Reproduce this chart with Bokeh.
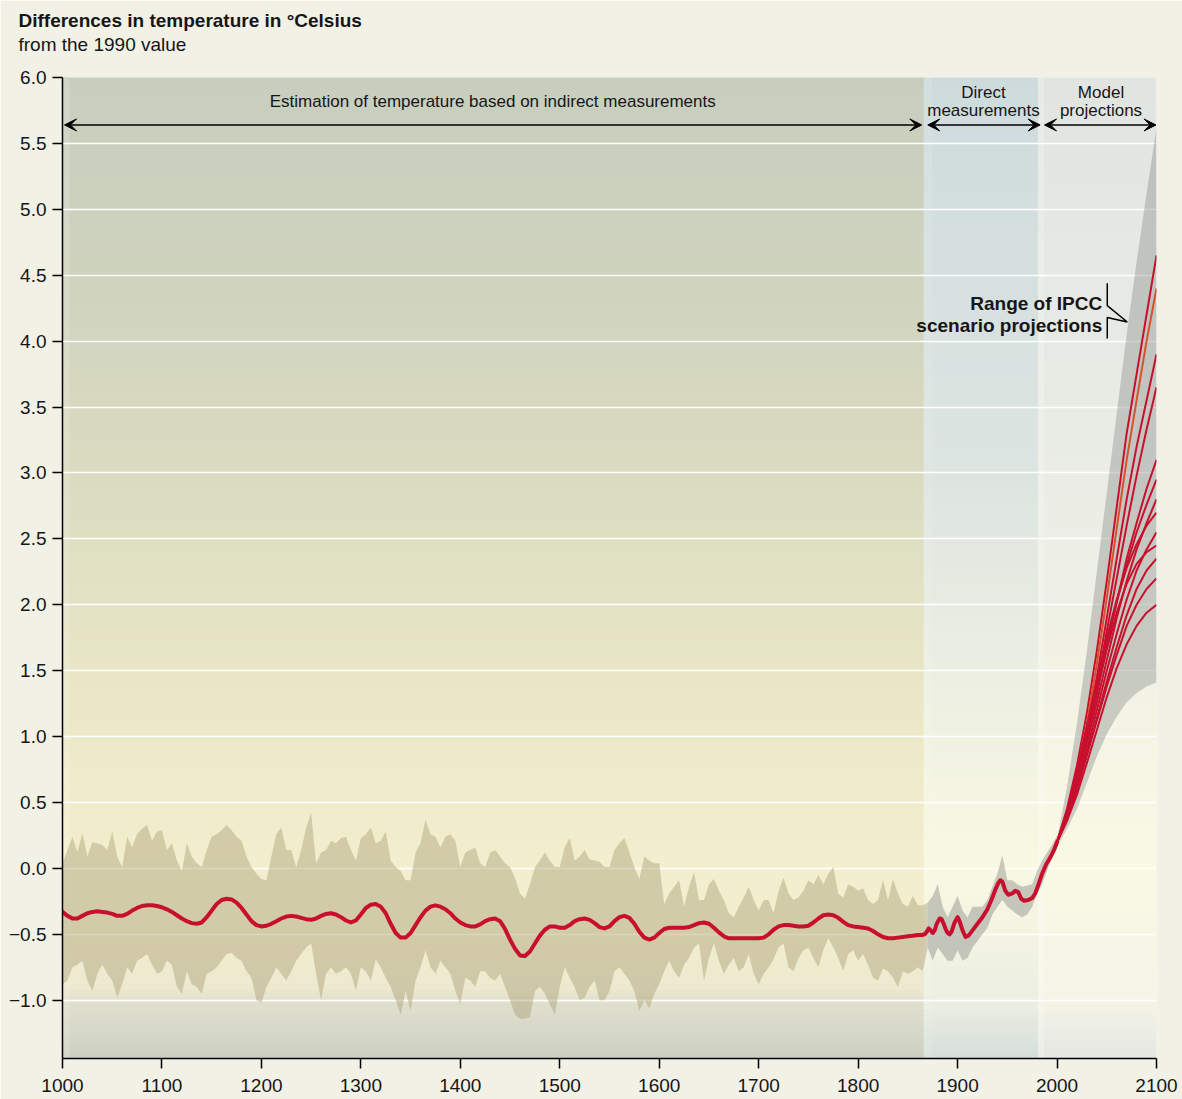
import numpy as np
from bokeh.plotting import figure
from bokeh.models import Range1d, FixedTicker, Title, Arrow, VeeHead
from bokeh.core.properties import value
from bokeh.embed import file_html
from bokeh.resources import INLINE

# ---------------- data ----------------
x_ticks = [1000, 1100, 1200, 1300, 1400, 1500, 1600, 1700, 1800, 1900, 2000, 2100]
x_tick_labels = ["1000", "1100", "1200", "1300", "1400", "1500", "1600", "1700", "1800", "1900", "2000", "2100"]
y_ticks = [-1.0, -0.5, 0.0, 0.5, 1.0, 1.5, 2.0, 2.5, 3.0, 3.5, 4.0, 4.5, 5.0, 5.5, 6.0]
y_tick_labels = ["\u22121.0", "\u22120.5", "0.0", "0.5", "1.0", "1.5", "2.0", "2.5", "3.0", "3.5",
                 "4.0", "4.5", "5.0", "5.5", "6.0"]

# smoothed reconstruction (indirect), every 5 years 1000-1860
proxy_years = list(range(1000, 1861, 5))
proxy_smooth = [
    -0.33, -0.36, -0.38, -0.38, -0.36, -0.34, -0.33, -0.325, -0.33, -0.335,
    -0.345, -0.36, -0.36, -0.345, -0.32, -0.30, -0.285, -0.28, -0.28, -0.285,
    -0.295, -0.31, -0.33, -0.355, -0.38, -0.40, -0.415, -0.42, -0.41, -0.37,
    -0.32, -0.27, -0.24, -0.23, -0.235, -0.26, -0.30, -0.35, -0.40, -0.43,
    -0.44, -0.435, -0.42, -0.40, -0.38, -0.365, -0.36, -0.365, -0.375, -0.385,
    -0.39, -0.38, -0.36, -0.345, -0.34, -0.35, -0.37, -0.395, -0.41, -0.395,
    -0.35, -0.30, -0.275, -0.27, -0.29, -0.34, -0.42, -0.49, -0.525, -0.525,
    -0.49, -0.43, -0.37, -0.32, -0.29, -0.28, -0.29, -0.31, -0.34, -0.38,
    -0.41, -0.43, -0.44, -0.44, -0.425, -0.40, -0.385, -0.38, -0.40, -0.46,
    -0.54, -0.61, -0.66, -0.665, -0.63, -0.57, -0.51, -0.465, -0.44, -0.44,
    -0.45, -0.45, -0.43, -0.40, -0.385, -0.38, -0.39, -0.415, -0.445, -0.455,
    -0.44, -0.40, -0.37, -0.36, -0.375, -0.42, -0.48, -0.525, -0.54, -0.525,
    -0.49, -0.46, -0.45, -0.45, -0.45, -0.45, -0.445, -0.43, -0.415, -0.41,
    -0.42, -0.45, -0.485, -0.515, -0.53, -0.53, -0.53, -0.53, -0.53, -0.53,
    -0.53, -0.525, -0.50, -0.465, -0.44, -0.43, -0.43, -0.435, -0.44, -0.44,
    -0.435, -0.41, -0.38, -0.355, -0.35, -0.355, -0.375, -0.405, -0.43, -0.44,
    -0.445, -0.45, -0.455, -0.475, -0.50, -0.52, -0.53, -0.53, -0.525, -0.52,
    -0.515, -0.51, -0.505]

# uncertainty range of the reconstruction, every 5 years 1000-1870
band_years = list(range(1000, 1871, 5))
band_upper = [
    0.04, 0.14, 0.24, 0.12, 0.27, 0.09, 0.20, 0.19, 0.18, 0.14,
    0.28, 0.09, 0.01, 0.24, 0.16, 0.26, 0.30, 0.33, 0.21, 0.28,
    0.29, 0.14, 0.19, 0.06, -0.02, 0.19, 0.09, 0.04, 0.01, 0.14,
    0.24, 0.26, 0.29, 0.33, 0.29, 0.24, 0.21, 0.09, 0.01, -0.04,
    -0.08, -0.09, 0.09, 0.26, 0.31, 0.14, 0.14, 0.01, 0.14, 0.31,
    0.42, 0.04, 0.12, 0.14, 0.21, 0.19, 0.23, 0.24, 0.14, 0.06,
    0.23, 0.26, 0.31, 0.19, 0.21, 0.28, 0.06, 0.01, -0.02, -0.09,
    -0.09, 0.12, 0.19, 0.37, 0.26, 0.24, 0.16, 0.24, 0.26, 0.21,
    0.01, 0.12, 0.14, 0.16, 0.04, 0.01, 0.12, 0.14, 0.09, 0.04,
    0.01, -0.07, -0.19, -0.23, -0.12, 0.01, 0.06, 0.12, 0.06, 0.01,
    0.01, 0.16, 0.23, 0.06, 0.09, 0.14, 0.07, 0.06, 0.05, 0.01,
    0.01, 0.14, 0.19, 0.23, 0.12, 0.01, -0.08, 0.09, 0.06, 0.04,
    0.04, -0.27, -0.19, -0.14, -0.09, -0.29, -0.14, -0.03, -0.24, -0.24,
    -0.12, -0.08, -0.17, -0.24, -0.34, -0.37, -0.29, -0.22, -0.14, -0.24,
    -0.32, -0.24, -0.24, -0.34, -0.17, -0.07, -0.19, -0.24, -0.22, -0.17,
    -0.09, -0.12, -0.05, -0.12, -0.04, 0.01, -0.19, -0.22, -0.12, -0.14,
    -0.17, -0.15, -0.24, -0.27, -0.24, -0.09, -0.24, -0.08, -0.19, -0.27,
    -0.29, -0.21, -0.28, -0.28, -0.26]
band_lower = [
    -0.88, -0.85, -0.75, -0.73, -0.70, -0.85, -0.93, -0.80, -0.73, -0.80,
    -0.85, -0.98, -0.88, -0.75, -0.80, -0.70, -0.68, -0.65, -0.73, -0.80,
    -0.78, -0.70, -0.73, -0.90, -0.95, -0.78, -0.88, -0.90, -0.95, -0.80,
    -0.78, -0.75, -0.70, -0.65, -0.64, -0.68, -0.70, -0.78, -0.83, -1.00,
    -1.02, -0.90, -0.83, -0.75, -0.80, -0.85, -0.78, -0.70, -0.65, -0.60,
    -0.57, -0.80, -1.00, -0.80, -0.75, -0.80, -0.78, -0.75, -0.80, -0.93,
    -0.75, -0.78, -0.85, -0.69, -0.75, -0.83, -0.90, -1.00, -1.11, -0.93,
    -1.08, -0.85, -0.75, -0.62, -0.75, -0.80, -0.70, -0.75, -0.80, -0.93,
    -1.03, -0.83, -0.85, -0.90, -0.78, -0.78, -0.83, -0.85, -0.80, -0.90,
    -1.00, -1.11, -1.14, -1.14, -1.13, -0.93, -0.90, -0.95, -1.03, -1.11,
    -0.90, -0.75, -0.83, -0.90, -1.00, -0.98, -0.90, -0.85, -1.00, -1.00,
    -0.93, -0.78, -0.75, -0.80, -0.85, -0.93, -1.08, -1.00, -1.06, -0.95,
    -0.88, -0.78, -0.70, -0.78, -0.83, -0.73, -0.68, -0.60, -0.57, -0.85,
    -0.68, -0.57, -0.70, -0.80, -0.73, -0.68, -0.78, -0.75, -0.65, -0.80,
    -0.88, -0.80, -0.75, -0.69, -0.60, -0.57, -0.75, -0.78, -0.68, -0.62,
    -0.60, -0.68, -0.75, -0.62, -0.53, -0.60, -0.68, -0.78, -0.65, -0.62,
    -0.70, -0.65, -0.73, -0.83, -0.85, -0.76, -0.78, -0.83, -0.90, -0.78,
    -0.80, -0.78, -0.75, -0.78, -0.60]

# direct measurements: range every 5 years 1870-2000
direct_years = list(range(1870, 2001, 5))
direct_upper = [-0.26, -0.21, -0.12, -0.29, -0.37, -0.29, -0.21, -0.32, -0.37, -0.29,
                -0.29, -0.29, -0.24, -0.14, -0.04, 0.10, -0.09, -0.09, -0.12, -0.14,
                -0.13, -0.12, -0.02, 0.06, 0.12, 0.18, 0.25]
direct_lower = [-0.60, -0.70, -0.60, -0.65, -0.70, -0.70, -0.62, -0.70, -0.68, -0.60,
                -0.55, -0.50, -0.45, -0.35, -0.29, -0.24, -0.29, -0.32, -0.35, -0.37,
                -0.35, -0.29, -0.19, -0.12, -0.02, 0.09, 0.21]

# smoothed direct measurements
measured_years = [1864, 1867, 1869, 1871, 1873, 1875, 1877, 1879, 1882, 1884,
                  1886, 1888, 1890, 1892, 1894, 1897, 1900, 1902, 1905, 1908,
                  1911, 1915, 1920, 1925, 1930, 1934, 1938, 1941, 1943, 1945,
                  1948, 1951, 1955, 1958, 1961, 1964, 1967, 1971, 1975, 1978,
                  1981, 1985, 1989, 1993, 1997, 2000]
measured_vals = [-0.505, -0.50, -0.48, -0.455, -0.47, -0.49, -0.47, -0.42, -0.38, -0.385,
                 -0.42, -0.46, -0.49, -0.50, -0.48, -0.41, -0.37, -0.40, -0.47, -0.52,
                 -0.51, -0.47, -0.42, -0.37, -0.31, -0.24, -0.16, -0.11, -0.09, -0.10,
                 -0.17, -0.20, -0.19, -0.17, -0.18, -0.23, -0.245, -0.24, -0.225, -0.19,
                 -0.13, -0.04, 0.03, 0.08, 0.14, 0.20]

# range of IPCC scenario projections
fan_years = [1995, 2000, 2010, 2020, 2030, 2040, 2050, 2060, 2070, 2080, 2090, 2100]
fan_upper = [0.12, 0.22, 0.62, 1.10, 1.65, 2.25, 2.85, 3.45, 4.05, 4.60, 5.12, 5.62]
fan_lower = [0.08, 0.16, 0.30, 0.45, 0.65, 0.85, 1.02, 1.15, 1.26, 1.33, 1.38, 1.41]

# individual scenario projections, every 10 years 2000-2100
proj_years = list(range(2000, 2101, 10))
projections = [
    [0.2, 0.45, 0.78, 1.18, 1.65, 2.18, 2.74, 3.30, 3.75, 4.20, 4.65],
    [0.2, 0.42, 0.72, 1.10, 1.55, 2.05, 2.58, 3.10, 3.55, 4.00, 4.40],
    [0.2, 0.42, 0.70, 1.05, 1.45, 1.90, 2.35, 2.80, 3.20, 3.55, 3.90],
    [0.2, 0.40, 0.68, 1.00, 1.38, 1.80, 2.20, 2.60, 2.98, 3.33, 3.65],
    [0.2, 0.40, 0.66, 0.98, 1.32, 1.68, 2.02, 2.35, 2.62, 2.88, 3.10],
    [0.2, 0.42, 0.70, 1.02, 1.36, 1.70, 2.02, 2.30, 2.55, 2.76, 2.95],
    [0.2, 0.40, 0.65, 0.95, 1.26, 1.58, 1.90, 2.18, 2.42, 2.62, 2.80],
    [0.2, 0.44, 0.74, 1.08, 1.42, 1.75, 2.04, 2.28, 2.46, 2.60, 2.70],
    [0.2, 0.38, 0.62, 0.90, 1.20, 1.50, 1.78, 2.04, 2.26, 2.42, 2.55],
    [0.2, 0.42, 0.70, 1.02, 1.35, 1.66, 1.94, 2.16, 2.31, 2.40, 2.45],
    [0.2, 0.37, 0.60, 0.86, 1.14, 1.42, 1.68, 1.92, 2.12, 2.26, 2.35],
    [0.2, 0.38, 0.60, 0.86, 1.12, 1.38, 1.62, 1.84, 2.00, 2.12, 2.20],
    [0.2, 0.36, 0.56, 0.80, 1.05, 1.30, 1.52, 1.70, 1.84, 1.94, 2.00],
]

# ---------------- styling ----------------
FONT = "Liberation Sans"
PAGE_BG = "#f2f1e6"
RED = "#c8102e"
TXT = "#161616"
Y0, Y1 = -1.442, 6.0

p = figure(width=1182, height=1099, x_range=Range1d(1000, 2100), y_range=Range1d(Y0, Y1),
           output_backend="svg", toolbar_location=None,
           min_border_left=62, min_border_right=26, min_border_top=77, min_border_bottom=41,
           background_fill_color=PAGE_BG, border_fill_color=PAGE_BG)
p.outline_line_color = None


def add_gradient(x0, x1, anchors, mix_white=0.0):
    vals = np.array([a[0] for a in anchors], float)
    cols = np.array([a[1] for a in anchors], float)
    edges = np.linspace(Y0, Y1, 160)
    mids = (edges[:-1] + edges[1:]) / 2
    rgb = np.stack([np.interp(mids, vals, cols[:, k]) for k in range(3)], axis=1)
    rgb = rgb * (1 - mix_white) + 255 * mix_white
    colors = ["#%02x%02x%02x" % tuple(int(round(c)) for c in row) for row in rgb]
    step = edges[1] - edges[0]
    r = p.quad(left=x0, right=x1, bottom=edges[:-1], top=edges[1:] + step * 0.4,
               fill_color=colors, line_color=None)
    r.level = "image"


indirect_bg = [(-1.45, (205, 208, 193)), (-1.05, (222, 222, 205)), (-0.9, (236, 233, 207)),
               (-0.5, (243, 238, 206)), (0.0, (243, 239, 206)), (0.5, (240, 236, 203)),
               (1.5, (232, 230, 198)), (3.0, (218, 219, 192)), (4.5, (207, 211, 190)),
               (6.0, (200, 206, 190))]
direct_bg = [(-1.45, (214, 222, 219)), (-1.0, (236, 239, 226)), (0.0, (249, 248, 226)),
             (1.0, (240, 242, 226)), (3.0, (221, 229, 225)), (6.0, (206, 219, 220))]
model_bg = [(-1.45, (229, 231, 226)), (-1.0, (244, 244, 231)), (0.0, (250, 249, 229)),
            (3.0, (234, 236, 229)), (6.0, (225, 229, 226))]

add_gradient(1000, 1868, indirect_bg)
add_gradient(1000, 1007, indirect_bg, mix_white=0.15)
add_gradient(1866, 1874, direct_bg, mix_white=0.08)
add_gradient(1874, 1981, direct_bg)
add_gradient(1981, 1987, model_bg, mix_white=0.2)
add_gradient(1987, 2100, model_bg)

# axes
p.xaxis.ticker = FixedTicker(ticks=x_ticks)
p.xaxis.major_label_overrides = dict(zip(x_ticks, x_tick_labels))
p.yaxis.ticker = FixedTicker(ticks=y_ticks)
p.yaxis.major_label_overrides = dict(zip(y_ticks, y_tick_labels))
for ax in (p.xaxis[0], p.yaxis[0]):
    ax.axis_line_color = "black"
    ax.axis_line_width = 1.5
    ax.major_tick_line_color = "black"
    ax.major_tick_line_width = 1.5
    ax.major_tick_in = 0
    ax.major_tick_out = 10
    ax.minor_tick_line_color = None
    ax.major_label_text_font = FONT
    ax.major_label_text_font_size = "19px"
    ax.major_label_text_color = TXT
p.xaxis.major_label_standoff = 10
p.yaxis.major_label_standoff = 6

p.xgrid.grid_line_color = None
p.ygrid.ticker = FixedTicker(ticks=y_ticks[:-1])
p.ygrid.grid_line_color = "white"
p.ygrid.grid_line_width = 1.5

# ranges
p.varea(x=band_years, y1=band_lower, y2=band_upper, fill_color=(170, 160, 120), fill_alpha=0.45)
p.varea(x=direct_years, y1=direct_lower, y2=direct_upper, fill_color=(150, 152, 145), fill_alpha=0.5)
p.varea(x=fan_years, y1=fan_lower, y2=fan_upper, fill_color=(140, 145, 140), fill_alpha=0.42)

# projections
proj_colors = [RED, "#d8502c"] + [RED] * (len(projections) - 2)
p.multi_line(xs=[proj_years] * len(projections), ys=projections, line_color=proj_colors,
             line_width=2, line_join="round")

# temperature curve
p.line(proxy_years + measured_years, proxy_smooth + measured_vals, line_color=RED,
       line_width=4, line_join="round", line_cap="round")

# annotations
txt = dict(text_font=value(FONT), text_color=TXT, text_baseline="middle")
p.text(x=[1432.6], y=[5.82], text=["Estimation of temperature based on indirect measurements"],
       text_align="center", text_font_size="17px", **txt)
p.text(x=[1926, 1926], y=[5.89, 5.75], text=["Direct", "measurements"],
       text_align="center", text_font_size="17px", **txt)
p.text(x=[2044.2, 2044.2], y=[5.89, 5.75], text=["Model", "projections"],
       text_align="center", text_font_size="17px", **txt)
p.text(x=[2045.4, 2045.4], y=[4.285, 4.12], text=["Range of IPCC", "scenario projections"],
       text_align="right", text_font_size="19px", text_font_style="bold", **txt)
p.line(x=[2050.5, 2050.5, 2070.6, 2050.5, 2050.5], y=[4.44, 4.27, 4.145, 4.18, 4.02],
       line_color="black", line_width=1.5)

for xs, xe in [(1002, 1864), (1870, 1983), (1987.4, 2099.5)]:
    p.add_layout(Arrow(x_start=xs, y_start=5.64, x_end=xe, y_end=5.64, line_width=1.5,
                       line_color="black",
                       start=VeeHead(size=12, fill_color="black", line_color="black", line_width=1),
                       end=VeeHead(size=12, fill_color="black", line_color="black", line_width=1)))

# titles (p.title is the outermost one)
p.title.text = "Differences in temperature in \u00b0Celsius"
p.title.text_font = FONT
p.title.text_font_size = "19px"
p.title.text_font_style = "bold"
p.title.text_color = TXT
p.title.align = "left"
p.title.offset = -44
p.title.standoff = 0
p.add_layout(Title(text="from the 1990 value\n ", text_font=FONT,
                   text_font_size="19px", text_font_style="normal", text_color=TXT,
                   align="left", offset=-44, standoff=3), "above")

html = file_html(p, INLINE)
html = html.replace("<body>", '<body style="background:%s;">' % PAGE_BG, 1)
open("out.html", "w").write(html)
